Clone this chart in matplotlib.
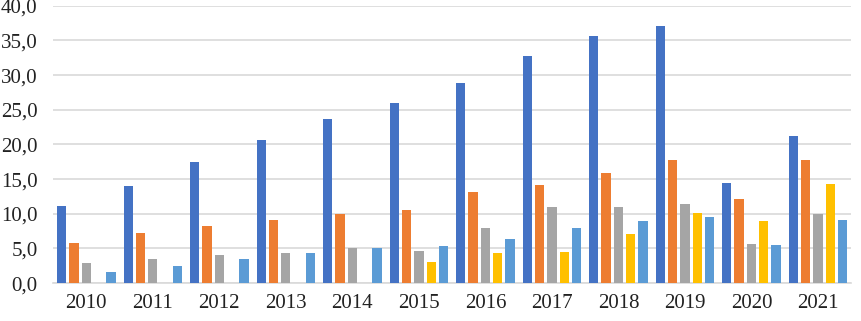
import numpy as np
import matplotlib
matplotlib.use("Agg")
import matplotlib.pyplot as plt

years = ["2010", "2011", "2012", "2013", "2014", "2015", "2016", "2017", "2018", "2019", "2020", "2021"]
serie_1 = [11.1, 14.0, 17.5, 20.7, 23.6, 26.0, 28.8, 32.7, 35.6, 37.1, 14.4, 21.2]
serie_2 = [5.8, 7.2, 8.2, 9.1, 10.0, 10.5, 13.1, 14.1, 15.9, 17.7, 12.2, 17.7]
serie_3 = [2.9, 3.5, 4.1, 4.4, 5.0, 4.6, 7.9, 11.0, 11.0, 11.4, 5.6, 9.9]
serie_4 = [0, 0, 0, 0, 0, 3.0, 4.3, 4.5, 7.1, 10.1, 9.0, 14.3]
serie_5 = [1.6, 2.5, 3.5, 4.3, 5.0, 5.3, 6.4, 7.9, 8.9, 9.5, 5.5, 9.1]

series = [serie_1, serie_2, serie_3, serie_4, serie_5]
farben = ["#4472C4", "#ED7D31", "#A5A5A5", "#FFC000", "#5B9BD5"]

plt.rcParams["font.family"] = ["Liberation Serif", "DejaVu Serif"]

fig = plt.figure(figsize=(8.62, 3.21), dpi=100)
ax = fig.add_axes([0.0615, 0.118, 0.926, 0.864])

x = np.arange(len(years))
schritt = 0.185
breite = 0.14
for i, (werte, farbe) in enumerate(zip(series, farben)):
    ax.bar(x + (i - 2) * schritt, werte, width=breite, color=farbe, zorder=3)

ax.set_xlim(-0.5, len(years) - 0.5)
ax.set_ylim(0, 40)
ax.set_yticks(np.arange(0, 41, 5))
ax.set_yticklabels([f"{v:.1f}".replace(".", ",") for v in np.arange(0, 41, 5)])
ax.set_xticks(x)
ax.set_xticklabels(years)
ax.tick_params(axis="both", length=0, labelsize=15, colors="#222222")
ax.tick_params(axis="x", pad=8)
ax.tick_params(axis="y", pad=11)

ax.grid(axis="y", color="#D9D9D9", linewidth=1.2, zorder=0)
for s in ["top", "right", "left"]:
    ax.spines[s].set_visible(False)
ax.spines["bottom"].set_color("#D9D9D9")
ax.spines["bottom"].set_linewidth(1.2)

fig.savefig("out.png", dpi=100)
